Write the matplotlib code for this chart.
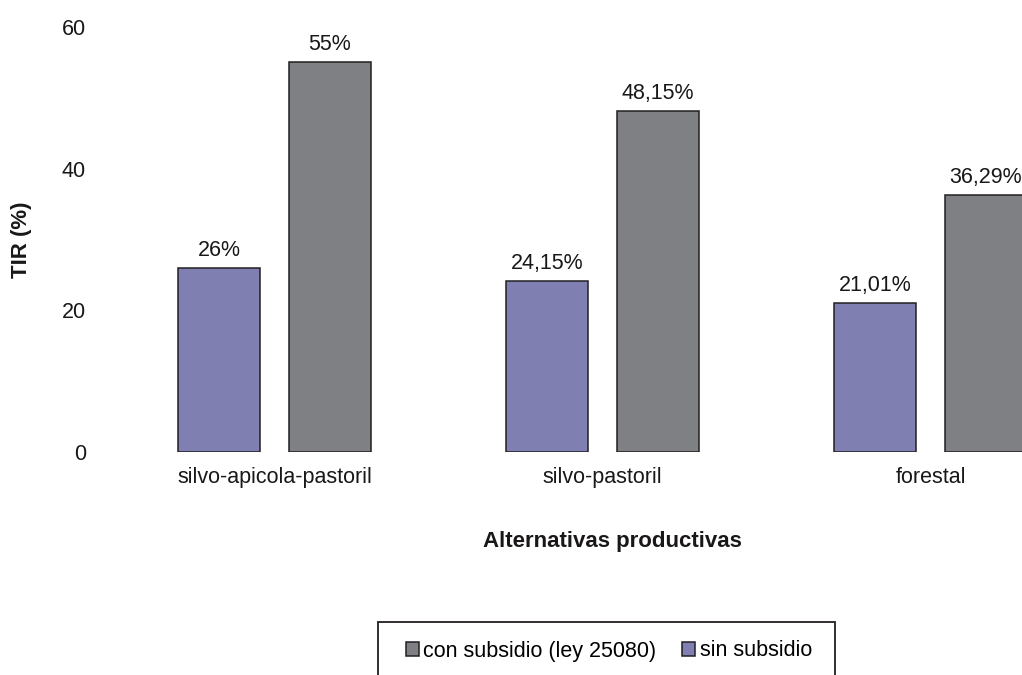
import numpy as np
import matplotlib
matplotlib.use("Agg")
import matplotlib.pyplot as plt
from matplotlib.patches import Rectangle

plt.rcParams['font.family'] = ['Liberation Sans', 'DejaVu Sans']

# data
categorias = ["silvo-apicola-pastoril", "silvo-pastoril", "forestal"]
sin_subsidio = [26, 24.15, 21.01]
con_subsidio = [55, 48.15, 36.29]
etiq_sin = ["26%", "24,15%", "21,01%"]
etiq_con = ["55%", "48,15%", "36,29%"]
yticks = [0, 20, 40, 60]

W, H = 1022, 675
fs = 15.5
txt = "#1a1718"
fig = plt.figure(figsize=(W / 100, H / 100), dpi=100)
ax = fig.add_axes([100 / W, (H - 452) / H, (W - 100) / W, 425 / H])

x = np.arange(len(categorias))
ancho = 0.25
desp = 0.169
edge = "#231f20"
b_sin = ax.bar(x - desp, sin_subsidio, ancho, color="#7f7fb2", edgecolor=edge, linewidth=1.1)
b_con = ax.bar(x + desp, con_subsidio, ancho, color="#7f8083", edgecolor=edge, linewidth=1.1)

# value labels above each bar
for xi, v, t in zip(x - desp, sin_subsidio, etiq_sin):
    ax.annotate(t, (xi, v), xytext=(0, 5), textcoords="offset points",
                ha="center", va="bottom", fontsize=fs, color=txt)
for xi, v, t in zip(x + desp, con_subsidio, etiq_con):
    ax.annotate(t, (xi, v), xytext=(0, 5), textcoords="offset points",
                ha="center", va="bottom", fontsize=fs, color=txt)

ax.set_xlim((100 - 274.5) / 328, (W - 274.5) / 328)
ax.set_ylim(0, 60)
ax.set_yticks(yticks)
ax.set_xticks(x)
ax.set_xticklabels(categorias)
ax.tick_params(axis="both", length=0, labelsize=fs, colors=txt)
ax.tick_params(axis="y", pad=10)
ax.tick_params(axis="x", pad=11)
for s in ax.spines.values():
    s.set_visible(False)

fig.text(22 / W, 1 - 240 / H, "TIR (%)", rotation=90, fontsize=16,
         fontweight="bold", ha="center", va="center", color=txt)
fig.text(612 / W, 1 - 541 / H, "Alternativas productivas", fontsize=16,
         fontweight="bold", ha="center", va="center", color=txt)

# legend box runs off the bottom of the figure
fig.patches.append(Rectangle((378 / W, -0.05), (835 - 378) / W, 0.05 + (H - 622) / H,
                             transform=fig.transFigure, fill=False,
                             edgecolor=edge, linewidth=1.3))
fig.legend([b_con, b_sin], ["con subsidio (ley 25080)", "sin subsidio"],
           loc="center", bbox_to_anchor=(609 / W, 1 - 651 / H), ncol=2,
           frameon=False, fontsize=fs, handlelength=0.6, handleheight=0.6,
           handletextpad=0.2, columnspacing=1.2)

fig.savefig("out.png", dpi=100)
